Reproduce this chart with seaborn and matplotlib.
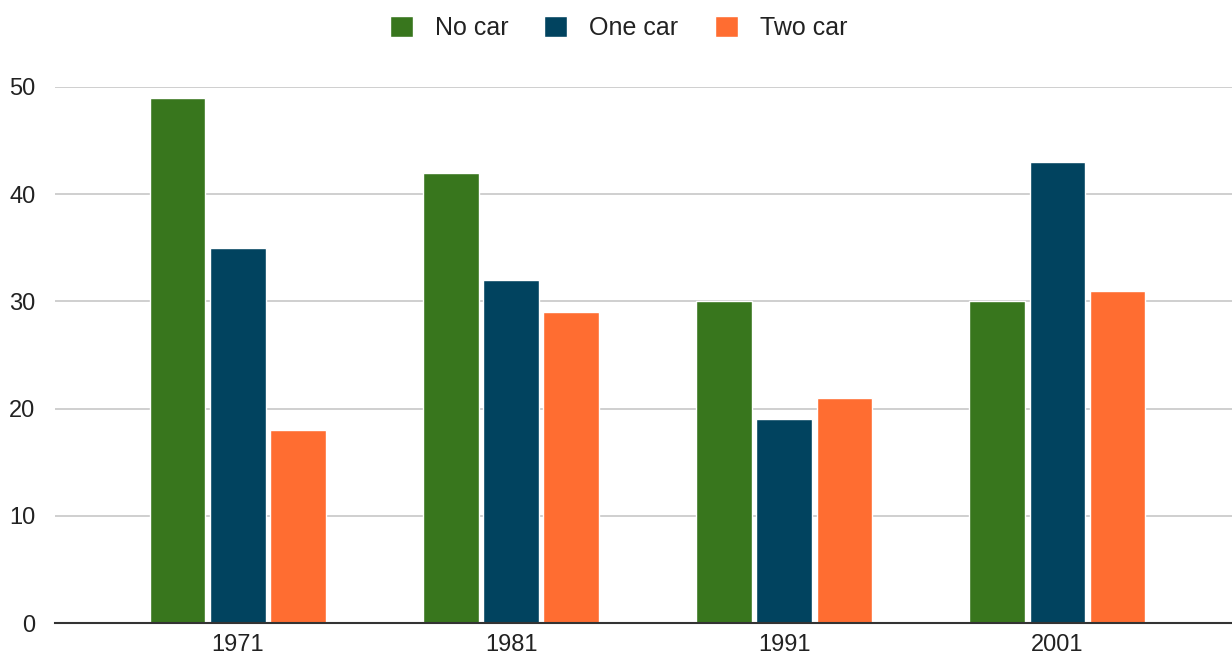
import pandas as pd
import matplotlib.pyplot as plt
import seaborn as sns

years = ["1971", "1981", "1991", "2001"]
no_car = [49, 42, 30, 30]
one_car = [35, 32, 19, 43]
two_car = [18, 29, 21, 31]
series_names = ["No car", "One car", "Two car"]
colors = ["#38761d", "#01435f", "#ff6d31"]

df = pd.DataFrame({"year": years, "No car": no_car, "One car": one_car, "Two car": two_car})
df = df.melt(id_vars="year", var_name="series", value_name="value")

sns.set_style("white")
plt.rcParams["font.family"] = ["Liberation Sans", "DejaVu Sans"]

fig = plt.figure(figsize=(12.32, 6.62), dpi=100)
ax = fig.add_axes([0.0446, 0.0589, 0.9554, 0.8097])

sns.barplot(data=df, x="year", y="value", hue="series", hue_order=series_names,
            palette=colors, width=0.66, gap=0.08, saturation=1, ax=ax, zorder=3)

ax.set_xlim(-0.67, 3.64)
ax.set_ylim(0, 50)
ax.set_yticks([0, 10, 20, 30, 40, 50])
ax.yaxis.grid(True, color="#cccccc", linewidth=1.3, zorder=0)
ax.set_axisbelow(True)
for s in ["top", "right", "left"]:
    ax.spines[s].set_visible(False)
ax.spines["bottom"].set_color("#333333")
ax.spines["bottom"].set_linewidth(1.5)
ax.spines["bottom"].set_zorder(4)
ax.tick_params(axis="both", length=0, labelsize=17, labelcolor="#222222")
ax.tick_params(axis="y", pad=14)
ax.tick_params(axis="x", pad=8)
ax.set_xlabel("")
ax.set_ylabel("")

ax.legend(loc="center", bbox_to_anchor=(0.502, 0.958), bbox_transform=fig.transFigure,
          ncol=3, frameon=False, fontsize=18, handlelength=0.92, handleheight=0.92,
          handletextpad=0.88, columnspacing=1.45, labelcolor="#222222")

plt.savefig("out.png", dpi=100)
